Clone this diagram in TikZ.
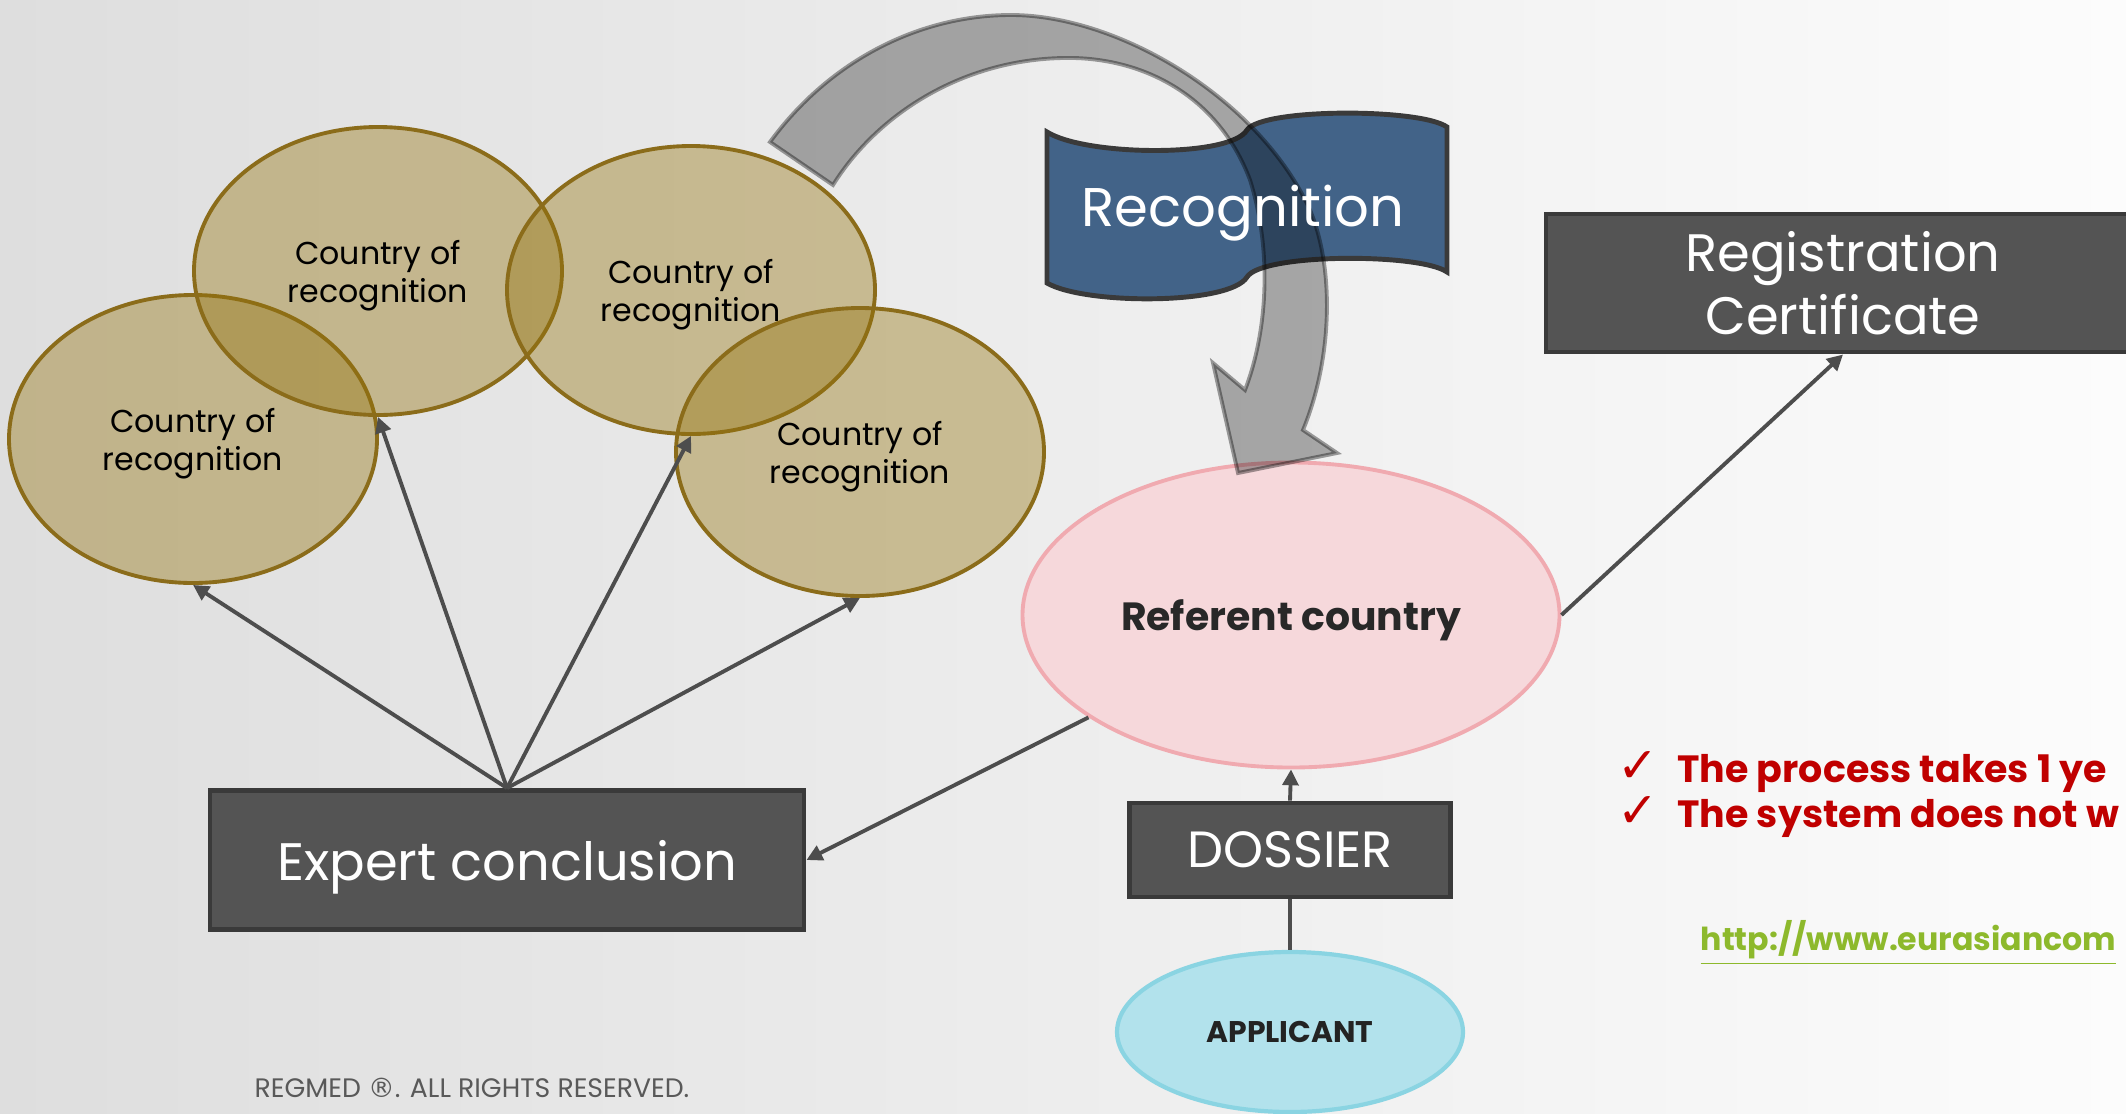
\documentclass[tikz,border=0pt]{standalone}
\usepackage{fontspec}
\setmainfont{Poppins}
\newfontfamily\checkfont{DejaVu Sans}
\usetikzlibrary{arrows.meta,positioning,shapes.geometric}

\definecolor{ringfill}{RGB}{148,115,13}
\definecolor{ringline}{RGB}{139,108,26}
\definecolor{boxfill}{RGB}{84,84,84}
\definecolor{boxline}{RGB}{58,58,58}
\definecolor{flagblue}{RGB}{66,99,136}
\definecolor{arcgray}{RGB}{176,176,176}
\definecolor{arcline}{RGB}{160,160,160}
\definecolor{pinkfill}{RGB}{246,216,219}
\definecolor{pinkline}{RGB}{240,170,176}
\definecolor{bluefill}{RGB}{178,226,236}
\definecolor{blueline}{RGB}{138,212,226}
\definecolor{linkgray}{RGB}{77,77,77}
\definecolor{notered}{RGB}{192,0,0}
\definecolor{urlgreen}{RGB}{141,185,44}
\definecolor{footgray}{RGB}{89,89,89}
\definecolor{bgleft}{RGB}{222,222,222}
\definecolor{bgmid}{RGB}{243,243,243}
\definecolor{bgright}{RGB}{252,252,252}

\begin{document}
\begin{tikzpicture}[x=0.1mm,y=-0.1mm,
  ring/.style={ellipse,draw=ringline,line width=1.1pt,fill=ringfill,fill opacity=0.4,text opacity=1,text depth=0pt,minimum width=36.8mm,minimum height=28.8mm,align=center,font=\fontsize{9}{10.8}\selectfont},
  darkbox/.style={draw=boxline,line width=1.4pt,fill=boxfill,text=white,align=center},
  note/.style={anchor=base west,inner sep=0pt,text=notered,font=\bfseries\fontsize{10.8}{13}\selectfont},
  conn/.style={draw=linkgray,line width=1.1pt},
  arr/.style={conn,-{Triangle[length=4.5pt,width=4.5pt]}}
]
  \useasboundingbox (0,0) rectangle (2126,1113);
  \clip (0,0) rectangle (2126,1113);
  \shade[left color=bgleft,middle color=bgmid,right color=bgright] (0,0) rectangle (2126,1113);

  \node[ring] (c1) at (193,439) {Country of\\recognition};
  \node[ring] (c2) at (378,271) {Country of\\recognition};
  \node[ring] (c3) at (691,290) {Country of\\recognition};
  \node[ring] (c4) at (860,452) {Country of\\recognition};

  \node[ellipse,draw=pinkline,line width=1.1pt,fill=pinkfill,minimum width=53.7mm,minimum height=30.5mm,text depth=0pt,
        text={rgb,255:red,40;green,40;blue,40},font=\bfseries\fontsize{11.2}{13.4}\selectfont] (referent) at (1291,615) {Referent country};
  \node[darkbox,minimum width=59.4mm,minimum height=13.9mm,text depth=0pt,font=\fontsize{15}{18}\selectfont] (expert) at (507,860) {Expert conclusion};
  \node[darkbox,minimum width=32.1mm,minimum height=9.4mm,font=\fontsize{14.5}{17.4}\selectfont] (dossier) at (1290,850) {DOSSIER};
  \node[darkbox,minimum width=59.4mm,minimum height=13.8mm,font=\fontsize{15}{18}\selectfont] (regcert) at (1843,283) {Registration\\Certificate};
  \node[ellipse,draw=blueline,line width=1.2pt,fill=bluefill,minimum width=34.6mm,minimum height=16mm,
        text={rgb,255:red,35;green,35;blue,35},font=\bfseries\fontsize{8.5}{10.2}\selectfont] (applicant) at (1290,1032) {APPLICANT};

  % banner
  \draw[boxline,line width=1.4pt,fill=flagblue]
    (1047,132) .. controls (1085,156) and (1230,158) .. (1247,130)
    .. controls (1262,108) and (1420,108) .. (1447,127) -- (1447,272)
    .. controls (1420,253) and (1262,253) .. (1247,277)
    .. controls (1230,305) and (1085,305) .. (1047,283) -- cycle;

  \draw[arcline,line width=1.1pt,fill=arcgray,blend mode=multiply]
    (770,142) .. controls (830,60) and (920,15) .. (1011,15)
    .. controls (1120,15) and (1260,100) .. (1310,210)
    .. controls (1335,270) and (1332,360) .. (1303,430)
    -- (1337,453) -- (1238,473) -- (1213,363) -- (1245,390)
    .. controls (1268,330) and (1272,250) .. (1250,180)
    .. controls (1220,100) and (1150,60) .. (1074,58)
    .. controls (970,56) and (880,110) .. (833,185) -- cycle;

  \node[text=white,text depth=0pt,font=\fontsize{15.5}{18.6}\selectfont] (recog) at (1243,206) {Recognition};

  \draw[arr] (expert.north) -- (c1.south);
  \draw[arr] (expert.north) -- (c2.south);
  \draw[arr] (expert.north) -- (c3.south);
  \draw[arr] (expert.north) -- (c4.south);
  \draw[arr] (referent) -- (expert.east);
  \draw[arr] (referent.east) -- (regcert.south);
  \draw[arr] (dossier.north) -- (referent.south);
  \draw[conn] (applicant.north) -- (dossier.south);

  \node[note] (note1) at (1617,782) {\makebox[17pt][l]{\checkfont\mdseries\fontsize{14}{14}\selectfont ✓}The process takes 1 ye};
  \node[note] (note2) at (1617,827) {\makebox[17pt][l]{\checkfont\mdseries\fontsize{14}{14}\selectfont ✓}The system does not w};
  \node[anchor=base west,inner sep=0pt,text=urlgreen,font=\bfseries\fontsize{9}{10.8}\selectfont] (url) at (1700,950) {\underline{http://www.eurasiancom}};
  \node[anchor=base west,inner sep=0pt,text=footgray,font=\fontsize{7.6}{9}\selectfont] (footer) at (254,1097) {REGMED {\checkfont ®}. ALL RIGHTS RESERVED.};
\end{tikzpicture}
\end{document}
